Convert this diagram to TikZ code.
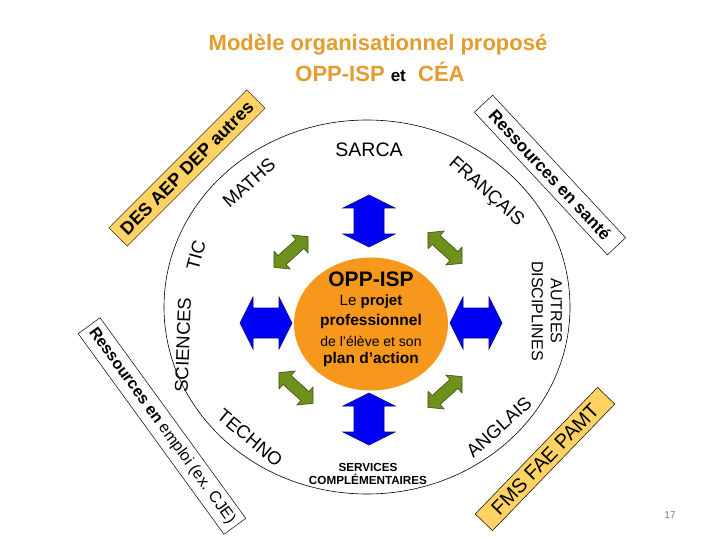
\documentclass[tikz,border=0pt]{standalone}
\usepackage{fontspec}
\setmainfont{Liberation Sans}
\usetikzlibrary{shapes.geometric}

\definecolor{titleorange}{RGB}{230,155,45}
\definecolor{coreorange}{RGB}{247,152,29}
\definecolor{bandyellow}{RGB}{255,210,100}
\definecolor{arrowblue}{RGB}{0,0,245}
\definecolor{arrowblueline}{RGB}{0,0,120}
\definecolor{arrowgreen}{RGB}{110,145,30}
\definecolor{arrowgreenline}{RGB}{55,80,15}

\newcommand{\fs}[1]{\fontsize{#1}{#1}\selectfont}

\tikzset{
  subj/.style={inner sep=0pt, font=\fs{18.5}},
  band/.style={draw=black, line width=0.5pt, inner sep=0pt, minimum height=25pt},
  yband/.style={band, fill=bandyellow},
  bluearrow/.pic={
    \draw[fill=arrowblue, draw=arrowblueline, line width=0.6pt]
      (-26,0) -- (-13,-26) -- (-13,-15) -- (13,-15) -- (13,-26) -- (26,0)
      -- (13,26) -- (13,15) -- (-13,15) -- (-13,26) -- cycle;
  },
  greenarrow/.pic={
    \draw[fill=arrowgreen, draw=arrowgreenline, line width=0.6pt]
      (-23,0) -- (-12,-12) -- (-12,-6) -- (12,-6) -- (12,-12) -- (23,0)
      -- (12,12) -- (12,6) -- (-12,6) -- (-12,12) -- cycle;
  }
}

\begin{document}
\begin{tikzpicture}[x=1pt, y=-1pt]
  \useasboundingbox[fill=white] (0,0) rectangle (720,540);

  % title
  \node (title) at (378,45) [inner sep=0pt, text=titleorange, font=\bfseries\fs{22}] {Modèle organisationnel proposé};
  \node (subtitle) at (380,72) [inner sep=0pt, font=\bfseries\fs{22}]
    {\textcolor{titleorange}{OPP-ISP} {\fs{17}et} \ \textcolor{titleorange}{CÉA}};

  % ring of subjects
  \node (ring) at (367,307) [draw, line width=0.6pt, ellipse, inner sep=0pt,
    minimum width=406pt, minimum height=374pt] {};

  \node (sarca) at (369,150) [subj, font=\fs{19.5}] {SARCA};
  \node (maths) at (249,183) [subj, rotate=42] {MATHS};
  \node (tic) at (196,255) [subj, rotate=75] {TIC};
  \node (sciences) at (183,345) [subj, rotate=88] {SCIENCES};
  \node (techno) at (250,438) [subj, rotate=-40] {TECHNO};
  \node (services) at (368,474) [inner sep=0pt, align=center, font=\bfseries\fs{11.7}, text depth=0pt]
    {SERVICES\\[2pt]COMPLÉMENTAIRES};
  \node (anglais) at (499,427) [subj, rotate=42] {ANGLAIS};
  \node (autres) at (547,311) [inner sep=0pt, rotate=-90, align=center, font=\fs{16}]
    {AUTRES\\[3pt]DISCIPLINES};
  \node (francais) at (486,192) [subj, rotate=-42] {FRANÇAIS};

  % resources around
  \node (desband) at (187,168) [yband, rotate=45, minimum width=195pt, minimum height=26pt,
    font=\bfseries\fs{18}] {DES AEP DEP autres};
  \node (santeband) at (550,175) [band, rotate=-47, minimum width=195pt, fill=white,
    font=\bfseries\fs{17}] {Ressources en santé};
  \node (emploiband) at (162,426) [band, rotate=-54, minimum width=248pt, minimum height=27pt, fill=white,
    font=\fs{16}] {\textbf{Ressources en} emploi (ex. CJE)};
  \node (fmsband) at (545,459) [yband, rotate=46, minimum width=176pt, minimum height=24pt,
    font=\fs{20}] {FMS FAE PAMT};

  % centre
  \node (core) at (371,324) [ellipse, fill=coreorange, inner sep=0pt,
    minimum width=154pt, minimum height=133pt] {};
  \node (opp) at (371,279) [inner sep=0pt, font=\bfseries\fs{21}] {OPP-ISP};
  \node (projet) at (371,302) [inner sep=0pt, font=\fs{15}] {Le \textbf{projet}};
  \node (prof) at (371,321) [inner sep=0pt, font=\bfseries\fs{15.5}] {professionnel};
  \node (eleve) at (371,341) [inner sep=0pt, font=\fs{14}] {de l'élève et son};
  \node (plan) at (371,359) [inner sep=0pt, font=\bfseries\fs{15.5}] {plan d’action};

  % arrows
  \pic[rotate=90] (up) at (369,221) {bluearrow};
  \pic[rotate=90] (down) at (369,419) {bluearrow};
  \pic (left) at (266,323) {bluearrow};
  \pic (right) at (476,323) {bluearrow};

  \pic[rotate=42] (nw) at (291,252) {greenarrow};
  \pic[rotate=-42] (ne) at (445,248) {greenarrow};
  \pic[rotate=-42] (sw) at (296,388) {greenarrow};
  \pic[rotate=42] (se) at (445,392) {greenarrow};

  \node (pg) at (670,515) [inner sep=0pt, text=gray, font=\fs{10}] {17};
\end{tikzpicture}
\end{document}
